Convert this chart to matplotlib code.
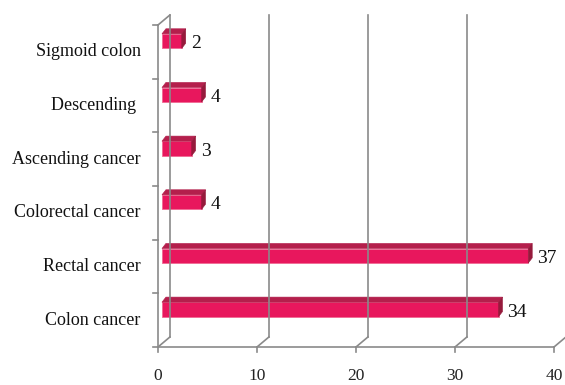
import matplotlib.pyplot as plt
from matplotlib.patches import Polygon

categories = ["Colon cancer", "Rectal cancer", "Colorectal cancer",
              "Ascending cancer", "Descending ", "Sigmoid colon"]
values = [34, 37, 4, 3, 4, 2]
xticks = [0, 10, 20, 30, 40]

plt.rcParams['font.family'] = ['Liberation Serif', 'DejaVu Serif']

fig = plt.figure(figsize=(5.65, 3.85), dpi=100)
ax = fig.add_axes([158/565, 38/385, 396/565, 322/385])
ax.set_xlim(0, 40)
ax.set_ylim(0, len(categories))
ax.set_axis_off()

grid = '#8a8a8a'
# depth of the 3d box (data units)
wdx, wdy = 1.2, 0.186
n = len(categories)

# back wall gridlines + floor diagonals
for x in xticks:
    ax.plot([x + wdx, x + wdx], [wdy, n + wdy], color=grid, lw=1.2, clip_on=False)
    ax.plot([x, x + wdx], [0, wdy], color=grid, lw=1.2, clip_on=False)
    ax.plot([x, x], [0, -0.09], color=grid, lw=1.2, clip_on=False)
    ax.text(x, -0.69, str(x), ha='center', va='bottom', fontsize=12.5, color='#222222')

# front axes
ax.plot([0, 0], [0, n], color=grid, lw=1.2, clip_on=False)
ax.plot([0, 40], [0, 0], color=grid, lw=1.2, clip_on=False)
ax.plot([0, wdx], [n, n + wdy], color=grid, lw=1.2, clip_on=False)
for k in range(n + 1):
    ax.plot([-0.5, 0], [k, k], color=grid, lw=1.2, clip_on=False)

# bars
front_c, top_c, side_c = '#e8175d', '#b41f4c', '#961a3c'
bx, bh = 0.4, 0.135
tdx, tdy = 0.4, 0.095
for i, (lab, v) in enumerate(zip(categories, values)):
    yc = i + 0.5 + 0.2
    x0, x1 = bx, v + bx
    y0, y1 = yc - bh, yc + bh
    ax.add_patch(Polygon([(x0, y0), (x1, y0), (x1, y1), (x0, y1)], closed=True,
                         facecolor=front_c, edgecolor='#f06a94', lw=0.6, clip_on=False))
    ax.add_patch(Polygon([(x0, y1), (x1, y1), (x1 + tdx, y1 + tdy), (x0 + tdx, y1 + tdy)],
                         closed=True, facecolor=top_c, edgecolor=top_c, lw=0.4, clip_on=False))
    ax.add_patch(Polygon([(x1, y0), (x1 + tdx, y0 + tdy), (x1 + tdx, y1 + tdy), (x1, y1)],
                         closed=True, facecolor=side_c, edgecolor=side_c, lw=0.4, clip_on=False))
    ax.text(x1 + tdx + 0.5, yc - 0.05, str(v), ha='left', va='center',
            fontsize=14, color='#111111')
    ax.text(-1.75, i + 0.5, lab, ha='right', va='center', fontsize=13, color='#111111')

fig.savefig('out.png', dpi=100)
